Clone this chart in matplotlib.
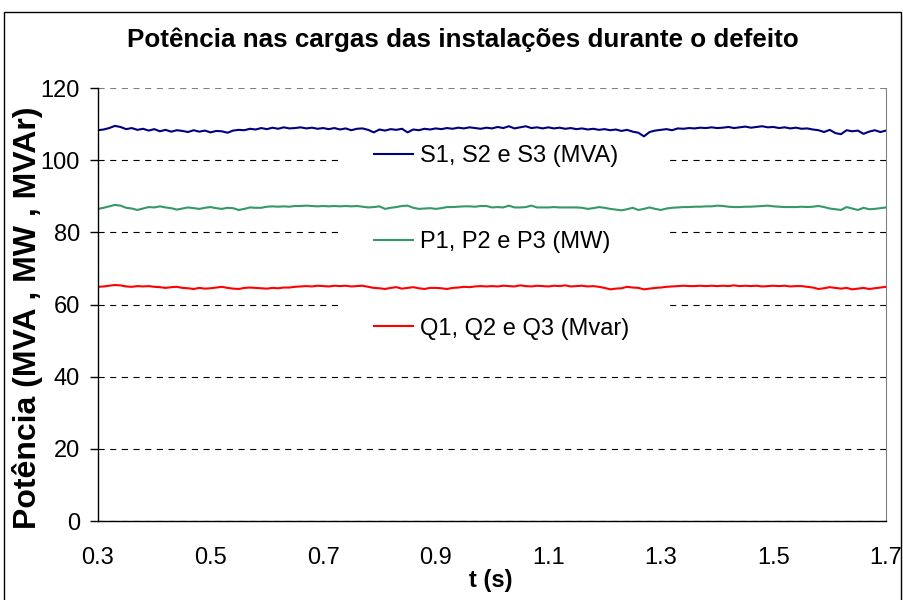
import numpy as np
import matplotlib
matplotlib.use("Agg")
import matplotlib.pyplot as plt
from matplotlib.patches import Rectangle

plt.rcParams['font.family'] = ['Liberation Sans', 'DejaVu Sans']

# time base (s), sampled every 0.01 s
t = np.round(np.arange(0.30, 1.7001, 0.01), 2)

# apparent power (MVA)
s_vals = [108.3, 108.5, 108.9, 109.5, 109.2, 108.6, 108.9, 108.4, 108.7, 108.2,
          108.6, 108.0, 108.4, 107.9, 108.3, 108.1, 107.8, 108.3, 107.9, 108.2,
          107.7, 108.1, 108.0, 107.6, 108.2, 108.4, 108.3, 108.7, 108.5, 108.9,
          108.6, 109.0, 108.7, 109.1, 108.8, 108.9, 109.1, 108.8, 109.0, 108.7,
          108.9, 108.6, 108.9, 108.5, 108.8, 108.3, 108.7, 108.8, 108.4, 107.7,
          108.5, 108.2, 108.6, 108.4, 108.7, 107.7, 108.5, 108.3, 108.7, 108.5,
          108.8, 108.6, 108.9, 108.7, 109.0, 108.8, 109.1, 108.9, 108.7, 109.0,
          108.8, 109.2, 108.9, 109.4, 108.8, 109.1, 109.4, 108.9, 109.1, 108.8,
          109.1, 108.8, 109.0, 108.7, 108.9, 108.6, 108.8, 108.5, 108.7, 108.4,
          108.6, 108.3, 108.5, 108.1, 108.4, 107.9, 107.6, 106.6, 107.8, 108.2,
          108.4, 108.6, 108.3, 108.8, 108.7, 108.9, 108.8, 109.0, 108.9, 109.1,
          108.9, 109.0, 109.2, 108.9, 109.1, 109.3, 109.0, 109.2, 109.4, 109.1,
          109.2, 108.9, 109.1, 108.8, 109.0, 108.7, 108.8, 108.5, 108.3, 107.8,
          108.4, 107.5, 107.2, 108.3, 108.0, 108.2, 107.3, 107.9, 108.3, 107.8,
          108.2]

# active power (MW)
p_vals = [86.5, 86.8, 87.2, 87.6, 87.4, 86.8, 86.6, 86.2, 86.6, 87.0,
          86.9, 87.2, 86.9, 86.7, 86.3, 86.6, 86.9, 86.7, 86.5, 86.8,
          87.0, 86.7, 86.5, 86.8, 86.7, 86.2, 86.5, 86.9, 86.8, 86.8,
          87.1, 87.2, 87.1, 87.2, 87.1, 87.3, 87.3, 87.4, 87.3, 87.2,
          87.3, 87.2, 87.3, 87.2, 87.3, 87.2, 87.3, 87.1, 86.9, 87.0,
          87.2, 86.5, 86.8, 87.0, 87.3, 87.4, 86.8, 86.5, 86.6, 86.7,
          86.5, 86.7, 87.0, 87.0, 87.1, 87.2, 87.2, 87.1, 87.3, 87.3,
          86.9, 87.0, 86.9, 87.4, 86.9, 86.9, 87.0, 87.4, 86.9, 86.9,
          86.9, 87.0, 86.9, 86.9, 86.9, 86.9, 86.8, 86.5, 86.7, 87.0,
          86.8, 86.5, 86.3, 86.1, 86.4, 86.8, 86.2, 86.5, 86.9, 86.5,
          86.2, 86.6, 86.8, 86.9, 87.0, 87.0, 87.1, 87.1, 87.2, 87.2,
          87.4, 87.3, 87.1, 87.0, 87.0, 87.1, 87.1, 87.2, 87.3, 87.4,
          87.2, 87.1, 87.0, 87.0, 87.0, 87.1, 87.0, 87.1, 87.3, 87.0,
          86.6, 86.4, 86.2, 87.0, 86.6, 86.2, 86.8, 86.4, 86.5, 86.7,
          86.9]

# reactive power (Mvar)
q_vals = [64.9, 65.0, 65.2, 65.4, 65.3, 65.0, 64.9, 65.1, 65.0, 65.1,
          64.9, 64.8, 64.6, 64.8, 64.9, 64.6, 64.5, 64.3, 64.6, 64.4,
          64.5, 64.7, 64.9, 64.6, 64.4, 64.3, 64.6, 64.7, 64.6, 64.5,
          64.4, 64.6, 64.5, 64.7, 64.7, 64.9, 65.0, 65.1, 65.0, 65.2,
          65.1, 65.0, 65.2, 65.1, 65.2, 65.0, 65.1, 65.2, 64.9, 64.6,
          64.5, 64.3, 64.6, 64.8, 64.4, 64.6, 64.8, 64.5, 64.3, 64.6,
          64.6, 64.5, 64.3, 64.6, 64.7, 64.9, 64.8, 65.0, 65.1, 65.0,
          65.1, 65.0, 65.2, 65.1, 65.0, 65.3, 65.1, 65.0, 65.2, 65.1,
          65.0, 65.2, 65.1, 65.3, 65.0, 65.1, 65.2, 65.0, 65.1, 64.9,
          64.6, 64.2, 64.4, 64.5, 64.9, 64.7, 64.6, 64.2, 64.4, 64.6,
          64.7, 64.9, 65.0, 65.1, 65.2, 65.1, 65.1, 65.2, 65.1, 65.2,
          65.1, 65.2, 65.1, 65.3, 65.1, 65.2, 65.1, 65.2, 65.0, 65.1,
          65.2, 65.1, 65.2, 65.0, 65.1, 65.1, 64.9, 64.7, 64.3, 64.5,
          64.8, 64.6, 64.4, 64.6, 64.2, 64.4, 64.6, 64.3, 64.5, 64.7,
          64.9]

labels = ['S1, S2 e S3 (MVA)', 'P1, P2 e P3 (MW)', 'Q1, Q2 e Q3 (Mvar)']
colors = ['#000080', '#339966', '#FF0000']
xticks = [0.3, 0.5, 0.7, 0.9, 1.1, 1.3, 1.5, 1.7]
yticks = [0, 20, 40, 60, 80, 100, 120]

fig = plt.figure(figsize=(9.04, 6), dpi=100)
ax = fig.add_axes([98/904, 79/600, 788/904, 433/600])

for vals, lab, c in zip([s_vals, p_vals, q_vals], labels, colors):
    ax.plot(t, vals, color=c, lw=1.5, label=lab, zorder=2)

ax.set_xlim(0.3, 1.7)
ax.set_ylim(0, 120)
ax.set_xticks(xticks)
ax.set_xticklabels([f'{v:.1f}' for v in xticks])
ax.set_yticks(yticks)
ax.tick_params(axis='x', length=0, pad=19, labelsize=17)
ax.tick_params(axis='y', length=6, width=1, pad=7, labelsize=17)

ax.set_axisbelow(True)
ax.yaxis.grid(True, color='black', linestyle=(0, (5.5, 5)), lw=0.8)
ax.yaxis.get_gridlines()[-1].set_color('#808080')
ax.spines['top'].set_visible(False)
ax.spines['right'].set_color('#808080')
for side in ['left', 'bottom']:
    ax.spines[side].set_linewidth(1)

leg = ax.legend(loc='upper left', frameon=True, facecolor='white',
                edgecolor='none', framealpha=1, fancybox=False,
                fontsize=17, handlelength=1.65, handletextpad=0.3,
                labelspacing=2.72, borderpad=1.5)
leg.set_bbox_to_anchor((327/904, 1 - 98/600), transform=fig.transFigure)
leg.set_zorder(1.5)

fig.text(463/904, 1 - 40/600, 'Potência nas cargas das instalações durante o defeito',
         ha='center', va='center', fontsize=18.7, fontweight='bold')
fig.text(28/904, 1 - 318/600, 'Potência (MVA , MW , MVAr)', rotation=90,
         ha='center', va='center', fontsize=23, fontweight='bold')
fig.text(491/904, 1 - 580/600, 't (s)', ha='center', va='center',
         fontsize=17, fontweight='bold')

fig.patches.append(Rectangle((4/904, -0.01), 897/904, 0.99, transform=fig.transFigure,
                             fill=False, edgecolor='black', lw=1))

fig.savefig('out.png', dpi=100)
